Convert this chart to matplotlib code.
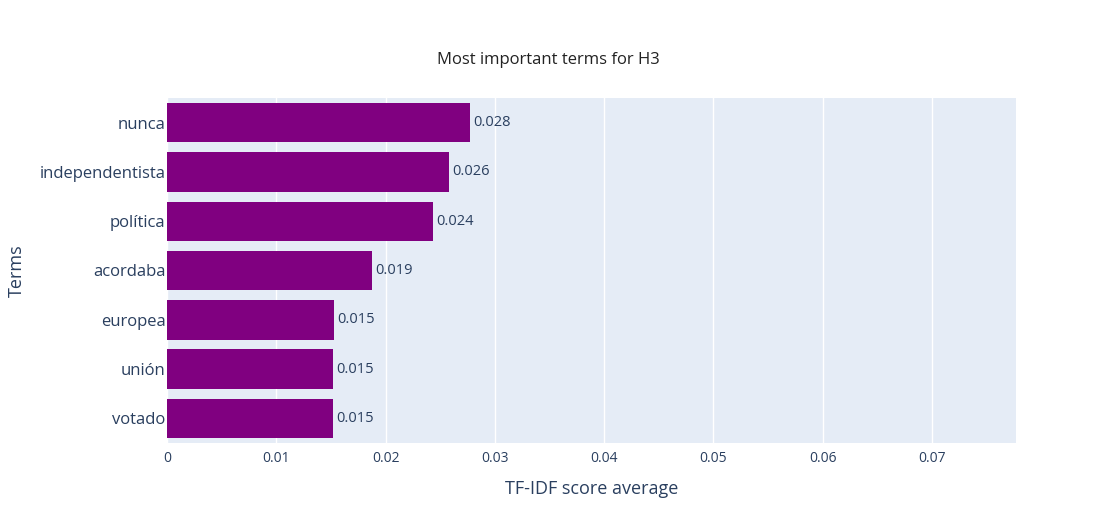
import matplotlib.pyplot as plt

terms = ['nunca', 'independentista', 'política', 'acordaba', 'europea', 'unión', 'votado']
scores = [0.02775, 0.0258, 0.0243, 0.0188, 0.0153, 0.0152, 0.0152]
labels = ['0.028', '0.026', '0.024', '0.019', '0.015', '0.015', '0.015']
xticks = [0, 0.01, 0.02, 0.03, 0.04, 0.05, 0.06, 0.07]
xticklabels = ['0', '0.01', '0.02', '0.03', '0.04', '0.05', '0.06', '0.07']

plt.rcParams['font.family'] = ['Open Sans', 'DejaVu Sans']
text_col = '#2a3f5f'

fig = plt.figure(figsize=(10.95, 5.25), dpi=100)
ax = fig.add_axes([167 / 1095, 1 - 443 / 525, (1016 - 167) / 1095, (443 - 98) / 525])
ax.set_facecolor('#e5ecf6')

ypos = list(range(len(terms)))[::-1]
ax.barh(ypos, scores, height=0.8, color='purple', zorder=2)
for y, s, lab in zip(ypos, scores, labels):
    ax.text(s + 0.0003, y, lab, va='center', ha='left', fontsize=10.5, color=text_col)

ax.set_xlim(0, 0.0777)
ax.set_ylim(-0.5, len(terms) - 0.5)
ax.set_xticks(xticks)
ax.set_xticklabels(xticklabels, fontsize=10, color=text_col)
ax.set_yticks(ypos)
ax.set_yticklabels(terms, fontsize=12, color=text_col)
ax.tick_params(length=0, pad=6)
ax.tick_params(axis='y', pad=1)
ax.grid(axis='x', color='white', linewidth=1, zorder=1)
for sp in ax.spines.values():
    sp.set_visible(False)

ax.set_xlabel('TF-IDF score average', fontsize=13, color=text_col, labelpad=10)
ax.set_ylabel('Terms', fontsize=13, color=text_col, labelpad=10)
fig.text(548 / 1095, 1 - 60 / 525, 'Most important terms for H3', ha='center', va='center',
         fontsize=12, color='#222222')

fig.savefig('out.png', dpi=100, facecolor='white')
